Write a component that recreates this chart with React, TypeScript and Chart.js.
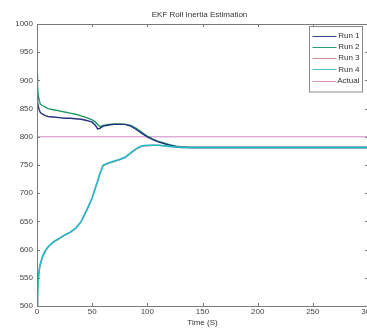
import React, { useEffect, useRef } from "react";
import { Chart, registerables } from "chart.js";
Chart.register(...registerables);

const chartTitle = "EKF Roll Inertia Estimation";
const xLabel = "Time (S)";
const seriesNames = ["Run 1", "Run 2", "Run 3", "Run 4", "Actual"];
const seriesColors = ["#27307f", "#1f9a62", "#b99090", "#1fbcd0", "#cc88c8"];
const legendColors = ["#3a3f8a", "#2a9a78", "#d49090", "#4cc2d2", "#d890d0"];

const time = [0, 0.5, 1, 2, 3, 5, 8, 10, 15, 20, 25, 30, 35, 40, 45, 50, 53, 55, 57, 60, 65, 70, 75, 80, 85, 90, 95, 100, 105, 110, 115, 120, 125, 130, 140, 150, 175, 200, 250, 300];
const run1 = [870, 862, 855, 848, 843, 840, 837, 836, 835, 834, 833, 833, 832, 831, 829, 826, 820, 814, 815, 819, 821, 822, 822, 822, 819, 813, 806, 800, 795, 791, 788, 785, 783, 782, 781, 781, 781, 781, 781, 781];
const run2 = [910, 890, 875, 865, 858, 855, 852, 850, 848, 846, 844, 842, 840, 837, 834, 830, 826, 822, 818, 820, 822, 823, 823, 822, 820, 815, 808, 801, 796, 792, 789, 786, 784, 782, 781, 781, 781, 781, 781, 781];
const run3 = [500, 518, 542, 562, 573, 586, 598, 604, 613, 619, 625, 630, 637, 649, 669, 691, 709, 721, 734, 749, 753, 756, 759, 763, 771, 778, 783, 784, 785, 785, 784, 783, 782, 781, 781, 781, 781, 781, 781, 781];
const run4 = [500, 520, 546, 565, 575, 588, 600, 605, 614, 620, 626, 631, 638, 650, 670, 692, 710, 722, 735, 750, 754, 757, 760, 764, 772, 779, 784, 785, 785, 785, 784, 783, 782, 781, 781, 781, 781, 781, 781, 781];
const actualValue = [800, 800];
const actualTime = [0, 300];
const xTicks = [0, 50, 100, 150, 200, 250, 300];
const yTicks = [500, 550, 600, 650, 700, 750, 800, 850, 900, 950, 1000];

const FONT = "'Liberation Sans', Arial, sans-serif";

const framePlugin = {
  id: "matlabFrame",
  afterDatasetsDraw(chart: any) {
    const { ctx, chartArea: a, scales } = chart;
    ctx.save();
    ctx.strokeStyle = "#7a7a7a";
    ctx.lineWidth = 1;
    ctx.beginPath();
    ctx.rect(Math.round(a.left) + 0.5, Math.round(a.top) + 0.5, Math.round(a.right - a.left), Math.round(a.bottom - a.top));
    ctx.stroke();
    const tl = 3;
    ctx.beginPath();
    for (const t of xTicks) {
      const x = Math.round(scales.x.getPixelForValue(t)) + 0.5;
      ctx.moveTo(x, a.top); ctx.lineTo(x, a.top + tl);
      ctx.moveTo(x, a.bottom); ctx.lineTo(x, a.bottom - tl);
    }
    for (const v of yTicks) {
      const y = Math.round(scales.y.getPixelForValue(v)) + 0.5;
      ctx.moveTo(a.left, y); ctx.lineTo(a.left + tl, y);
      ctx.moveTo(a.right, y); ctx.lineTo(a.right - tl, y);
    }
    ctx.stroke();

    // legend
    const bw = 53, rowH = 11.3;
    const bh = rowH * seriesNames.length + 9;
    const bx = Math.round(a.right - 6 - bw) + 0.5;
    const by = Math.round(a.top + 2) + 0.5;
    ctx.fillStyle = "#ffffff";
    ctx.fillRect(bx, by, bw, bh);
    ctx.strokeStyle = "#8a8a8a";
    ctx.strokeRect(bx, by, bw, bh);
    ctx.font = `8px ${FONT}`;
    ctx.textAlign = "right";
    ctx.textBaseline = "middle";
    chart.data.datasets.forEach((ds: any, i: number) => {
      const y = by + 9 + i * rowH;
      ctx.strokeStyle = legendColors[i];
      ctx.lineWidth = 1;
      ctx.beginPath();
      ctx.moveTo(bx + 3, Math.round(y) + 0.5);
      ctx.lineTo(bx + 27, Math.round(y) + 0.5);
      ctx.stroke();
      ctx.fillStyle = "#333";
      ctx.fillText(ds.label, bx + bw - 3, y);
    });

    // title
    ctx.fillStyle = "#333";
    ctx.textAlign = "center";
    ctx.textBaseline = "middle";
    ctx.font = `8px ${FONT}`;
    ctx.fillText(chartTitle, (a.left + a.right) / 2 - 3, 15);
    ctx.restore();
  },
};

function pts(xs: number[], ys: number[]) {
  return xs.map((x, i) => ({ x, y: ys[i] }));
}

export default function App() {
  const ref = useRef<HTMLCanvasElement>(null);
  useEffect(() => {
    if (!ref.current) return;
    const series = [run1, run2, run3, run4];
    const datasets: any[] = series.map((s, i) => ({
      label: seriesNames[i],
      data: pts(time, s),
      borderColor: seriesColors[i],
      borderWidth: i === 3 ? 1.6 : 1.4,
      pointRadius: 0,
      tension: 0,
      order: i === 3 ? 0 : i === 2 ? 1 : 2,
    }));
    datasets.push({
      label: seriesNames[4],
      data: pts(actualTime, actualValue),
      borderColor: seriesColors[4],
      borderWidth: 1,
      pointRadius: 0,
      order: 5,
    });
    const chart = new Chart(ref.current, {
      type: "line",
      data: { datasets },
      plugins: [framePlugin],
      options: {
        responsive: false,
        animation: false,
        devicePixelRatio: 1,
        layout: { padding: { left: 0, top: 24, right: 12, bottom: 0 } },
        plugins: { legend: { display: false }, tooltip: { enabled: false }, title: { display: false } },
        scales: {
          x: {
            type: "linear",
            min: 0,
            max: 300,
            afterFit: (s: any) => { s.height = 23; },
            ticks: { stepSize: 50, color: "#444", font: { size: 8, family: FONT }, padding: 1, maxRotation: 0, callback: (v: any) => String(v) },
            grid: { display: false, drawTicks: false },
            border: { display: false },
            title: { display: true, text: xLabel, color: "#333", font: { size: 8, family: FONT }, padding: { top: 0, bottom: 1 } },
          },
          y: {
            min: 500,
            max: 1000,
            afterFit: (s: any) => { s.width = 37; },
            ticks: { stepSize: 50, color: "#444", font: { size: 8, family: FONT }, padding: 4, callback: (v: any) => String(v) },
            grid: { display: false, drawTicks: false },
            border: { display: false },
          },
        },
      },
    });
    return () => chart.destroy();
  }, []);
  return (
    <div style={{ position: "fixed", left: 0, top: 0, width: 367, height: 329, overflow: "hidden", background: "#fff" }}>
      <canvas ref={ref} width={380} height={329} style={{ width: 380, height: 329, display: "block" }} />
    </div>
  );
}
